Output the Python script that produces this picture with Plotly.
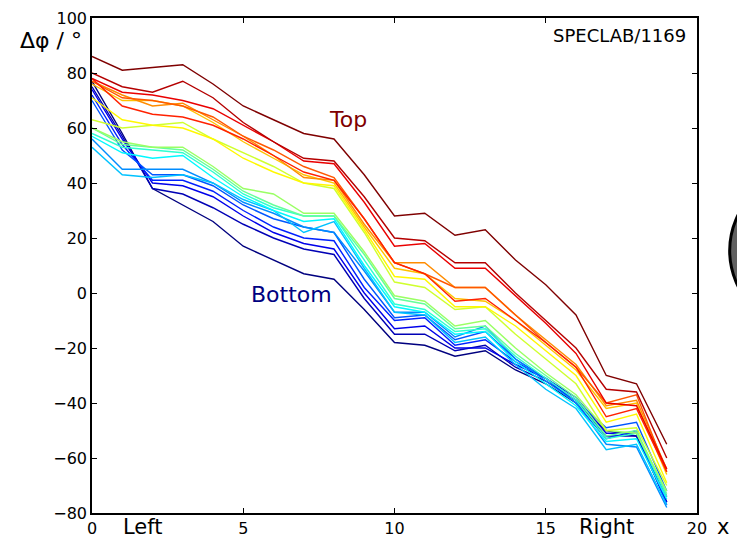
import plotly.graph_objects as go

# Sample positions along the strip
positions = list(range(20))

# Phase difference curves, ordered from the lowest row (index 0) to the highest row (index 19)
phase_curves = [
    [77, 58, 38, 32, 26, 17, 12, 7, 5, -6, -18, -19, -23, -21, -28, -33, -40, -50, -52, -76],
    [75, 57, 38, 36, 31, 25, 20, 16, 14, -2, -15, -15, -21, -19, -27, -32, -39, -52, -52, -74],
    [74, 56, 40, 39, 35, 28, 22, 18, 16, 0, -13, -12, -20, -20, -26, -31, -38, -51, -51, -76],
    [72, 54, 41, 41, 37, 30, 24, 20, 19, 2, -10, -9, -19, -17, -25, -31, -40, -53, -50, -77],
    [70, 52, 43, 43, 39, 32, 27, 24, 22, 5, -9, -8, -17, -14, -24, -31, -39, -49, -47, -72],
    [56, 45, 45, 45, 40, 33, 29, 24, 22, 8, -7, -7, -16, -12, -24, -32, -40, -55, -56, -78],
    [53, 43, 42, 43, 40, 34, 30, 22, 26, 9, -7, -8, -18, -16, -26, -35, -42, -57, -55, -77],
    [57, 51, 49, 50, 42, 35, 30, 26, 27, 10, -5, -7, -15, -14, -25, -33, -41, -54, -53, -75],
    [58, 53, 52, 51, 44, 36, 31, 28, 28, 12, -4, -6, -14, -13, -23, -31, -39, -53, -51, -74],
    [60, 54, 53, 52, 45, 37, 32, 28, 28, 14, -2, -4, -13, -12, -22, -30, -38, -52, -50, -73],
    [60, 55, 53, 53, 46, 38, 36, 29, 29, 15, -1, -3, -12, -10, -20, -29, -37, -50, -51, -72],
    [63, 60, 61, 62, 56, 51, 46, 40, 38, 22, 4, 2, -6, -5, -15, -24, -33, -50, -49, -70],
    [71, 63, 61, 60, 56, 49, 44, 40, 39, 23, 6, 5, -5, -5, -12, -21, -30, -47, -44, -69],
    [76, 70, 70, 68, 62, 55, 49, 43, 40, 24, 9, 7, -2, -3, -10, -19, -28, -42, -40, -66],
    [77, 72, 68, 69, 63, 57, 50, 42, 41, 25, 11, 11, 2, 2, -8, -17, -26, -41, -39, -64],
    [77, 71, 70, 68, 64, 57, 52, 46, 42, 27, 11, 7, 2, 2, -8, -18, -27, -40, -37, -65],
    [78, 68, 65, 64, 61, 56, 50, 44, 41, 27, 11, 7, -3, -2, -10, -18, -27, -45, -42, -65],
    [78, 73, 72, 70, 67, 61, 55, 48, 47, 33, 17, 18, 9, 9, -1, -11, -22, -40, -41, -64],
    [80, 75, 73, 77, 71, 62, 55, 49, 48, 35, 20, 19, 11, 11, 0, -10, -20, -35, -36, -60],
    [86, 81, 82, 83, 76, 68, 63, 58, 56, 43, 28, 29, 21, 23, 12, 3, -8, -30, -33, -55],
]

x_ticks = [0, 5, 10, 15, 20]
y_ticks = [-80, -60, -40, -20, 0, 20, 40, 60, 80, 100]


def jet(t):
    """Jet colormap colour for t in [0, 1]."""
    def ch(v):
        return max(0.0, min(1.0, v))
    r = ch(1.5 - abs(4 * t - 3))
    g = ch(1.5 - abs(4 * t - 2))
    b = ch(1.5 - abs(4 * t - 1))
    return f"rgb({int(r * 255)},{int(g * 255)},{int(b * 255)})"


fig = go.Figure()
n = len(phase_curves)
for i, curve in enumerate(phase_curves):
    fig.add_trace(go.Scatter(
        x=positions, y=curve, mode="lines",
        line=dict(color=jet(i / (n - 1)), width=1.4),
        showlegend=False, hoverinfo="skip",
    ))

font_main = "DejaVu Sans, Liberation Sans, sans-serif"
axis_common = dict(
    showline=True, linecolor="black", linewidth=1.5, mirror="allticks",
    ticks="inside", ticklen=5, tickwidth=1, tickcolor="black",
    showgrid=False, zeroline=False, automargin=False,
    tickfont=dict(family=font_main, size=16, color="black"),
)

fig.update_layout(
    width=737, height=540, autosize=False,
    margin=dict(l=92, r=40, t=18, b=27, autoexpand=False),
    paper_bgcolor="white", plot_bgcolor="white",
    xaxis=dict(range=[0, 20], tickvals=x_ticks, **axis_common),
    yaxis=dict(range=[-80, 100], tickvals=y_ticks, **axis_common),
    annotations=[
        dict(text="Top", x=8.46, y=63, xref="x", yref="y", showarrow=False,
             font=dict(family=font_main, size=22, color="#800000")),
        dict(text="Bottom", x=6.6, y=-0.7, xref="x", yref="y", showarrow=False,
             font=dict(family=font_main, size=22, color="#000080")),
        dict(text="SPECLAB/1169", x=0.985, y=0.99, xref="paper", yref="paper",
             xanchor="right", yanchor="top", showarrow=False,
             font=dict(family=font_main, size=18, color="black")),
        dict(text="Δφ / °", x=-0.068, y=0.955, xref="paper", yref="paper",
             xanchor="center", yanchor="middle", showarrow=False,
             font=dict(family=font_main, size=22, color="black")),
        dict(text="Left", x=1.7, y=0, xref="x", yref="paper",
             yanchor="top", yshift=0, showarrow=False,
             font=dict(family=font_main, size=21, color="black")),
        dict(text="Right", x=17.0, y=0, xref="x", yref="paper",
             yanchor="top", yshift=0, showarrow=False,
             font=dict(family=font_main, size=21, color="black")),
        dict(text="x", x=1.056, y=0, xref="paper", yref="paper",
             yanchor="top", yshift=0, showarrow=False,
             font=dict(family=font_main, size=21, color="black")),
    ],
    shapes=[
        dict(type="circle", xref="paper", yref="paper",
             x0=1.054, x1=1.35, y0=0.36, y1=0.70,
             fillcolor="#606060", line=dict(color="black", width=3)),
    ],
)

fig.write_html("out.html")
